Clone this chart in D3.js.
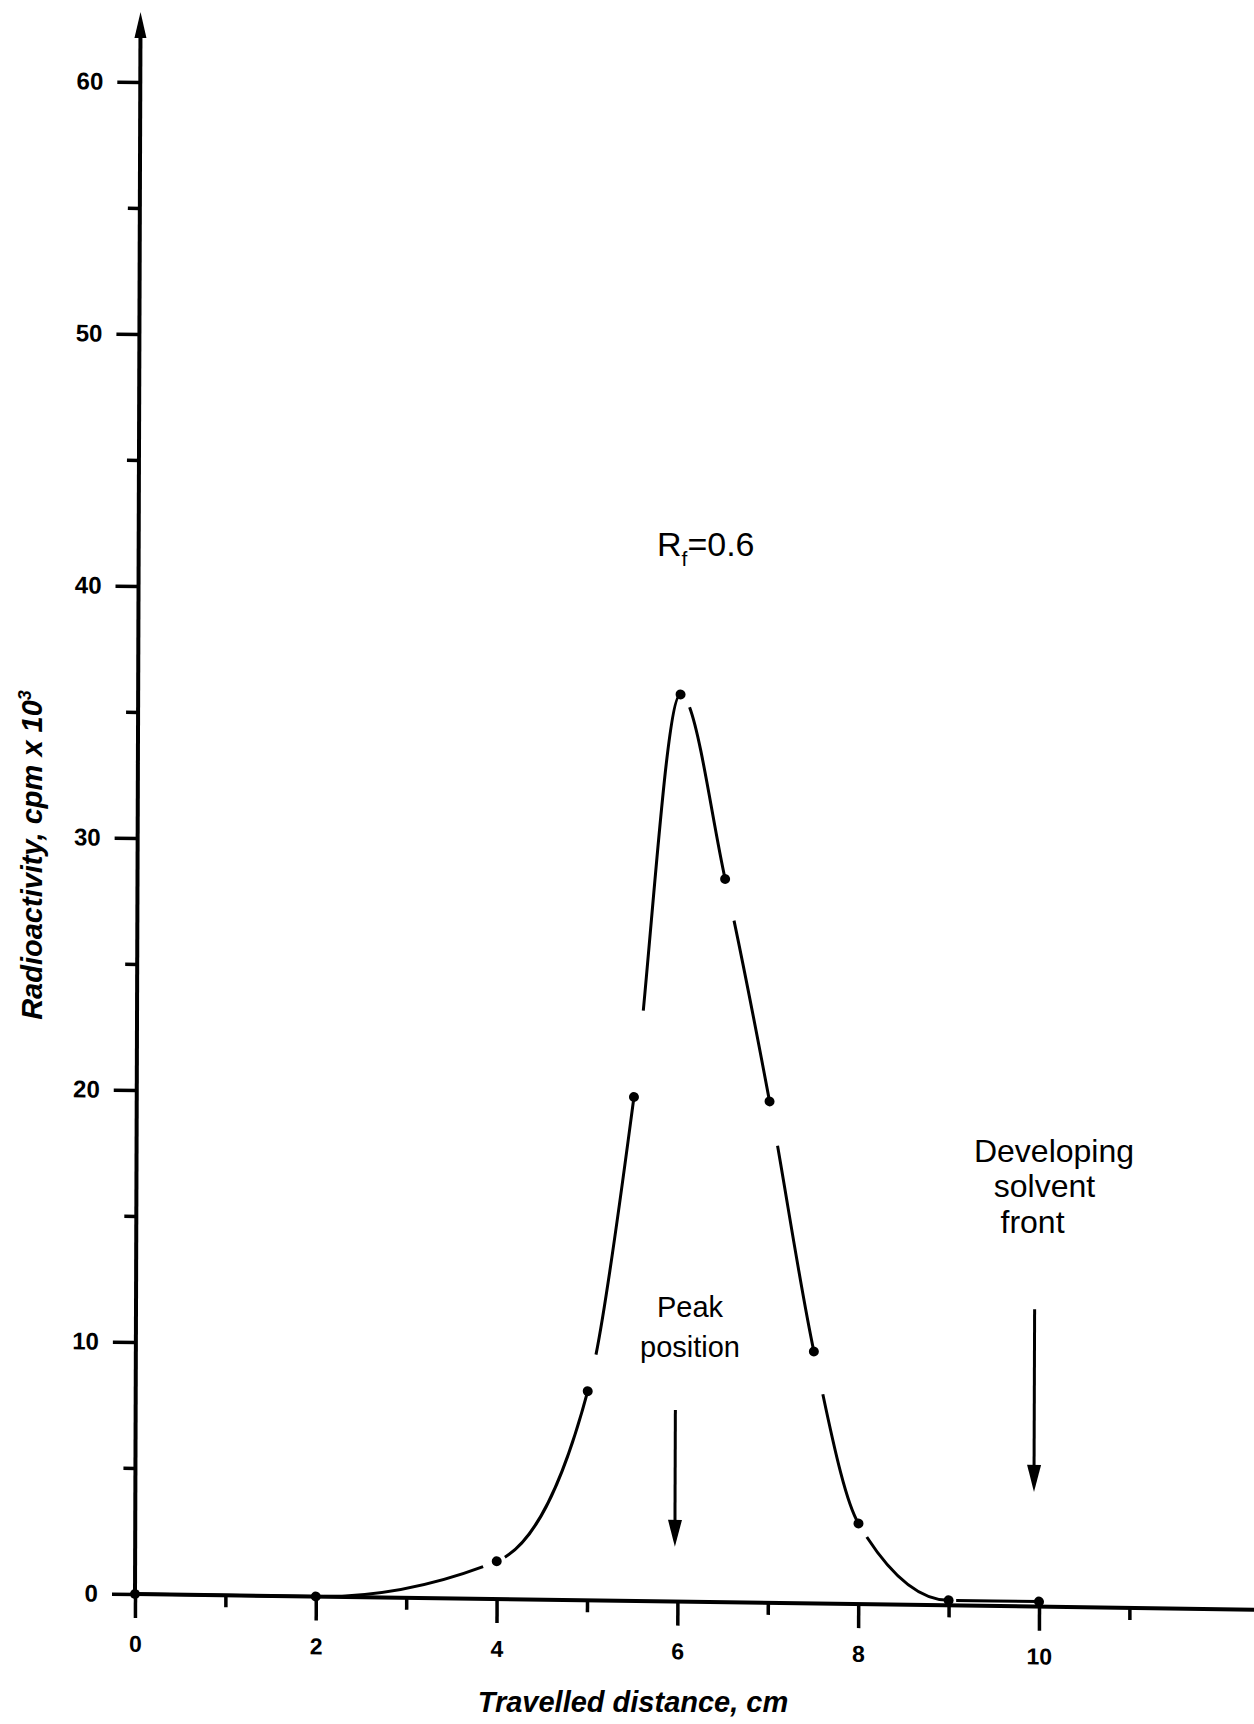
<!DOCTYPE html>
<html>
<head>
<meta charset="utf-8">
<script src="https://cdn.jsdelivr.net/npm/d3@7"></script>
<style>
  body { margin: 0; background: #fff; }
  svg { display: block; background: #fff; }
  text { font-family: "Liberation Sans", Arial, Helvetica, sans-serif; fill: #000; }
</style>
</head>
<body>
<svg id="chart" width="1254" height="1724"></svg>
<script>
// Distance travelled along the strip (cm)
const distance = [0, 2, 4, 5, 5.5, 6, 6.5, 7, 7.5, 8, 9, 10];
// Counted radioactivity at each position (cpm x 10^3)
const activity = [0, 0, 1.5, 8.3, 20, 36, 28.7, 19.9, 10, 3.2, 0.2, 0.2];

const xMajorTicks = [0, 2, 4, 6, 8, 10];
const xMinorTicks = [1, 3, 5, 7, 9, 11];
const yMajorTicks = [0, 10, 20, 30, 40, 50, 60];
const yMinorTicks = [5, 15, 25, 35, 45, 55];

// Stretches of the drawn curve left open beside the measured points (cm)
const curveBreaks = [[3.85, 4.09], [5.0, 5.09], [5.5, 5.6], [6.0, 6.1], [6.5, 6.6],
                     [7.0, 7.09], [7.5, 7.6], [8.0, 8.09], [9.0, 9.08]];

// Marker arrows: position (cm), start and tip (cpm x 10^3)
const arrowX = [5.97, 9.94];
const arrowFrom = [7.6, 11.8];
const arrowTo = [2.17, 4.55];

const svg = d3.select("#chart");

const x = d3.scaleLinear().domain([0, 10]).range([0, 904]);
const y = d3.scaleLinear().domain([0, 60]).range([0, -1512]);

// plot frame, slightly sheared like the printed original
const g = svg.append("g")
  .attr("transform", "translate(135,1594) matrix(1,0.014,-0.0035,1,0,0)");

// ---- axes ----
const yMajor = g.append("g").call(
  d3.axisLeft(y).tickValues(yMajorTicks).tickSize(23).tickPadding(14).tickFormat(d3.format("d")));
const yMinor = g.append("g").call(
  d3.axisLeft(y).tickValues(yMinorTicks).tickSize(12).tickFormat(""));
const xMajor = g.append("g").call(
  d3.axisBottom(x).tickValues(xMajorTicks).tickSize(24).tickPadding(17.5).tickFormat(d3.format("d")));
const xMinor = g.append("g").call(
  d3.axisBottom(x).tickValues(xMinorTicks).tickSize(12).tickFormat(""));

[yMajor, yMinor, xMajor, xMinor].forEach(a => {
  a.select(".domain").remove();
  a.selectAll(".tick line").attr("stroke", "#000").attr("stroke-width", 3.5);
});
yMajor.selectAll(".tick text")
  .attr("font-family", "'Liberation Sans', Arial, sans-serif")
  .attr("font-size", 24).attr("font-weight", "bold");
xMajor.selectAll(".tick text")
  .attr("font-family", "'Liberation Sans', Arial, sans-serif")
  .attr("font-size", 23).attr("font-weight", "bold");

// axis lines with arrowheads
const yTop = y(60) - 70;
const xEnd = x(11) + 214;
g.append("line").attr("x1", 0).attr("y1", 0).attr("x2", 0).attr("y2", yTop + 20)
  .attr("stroke", "#000").attr("stroke-width", 4);
g.append("path")
  .attr("d", `M0,${yTop} L-6,${yTop + 26} L6,${yTop + 26} Z`).attr("fill", "#000");
g.append("line").attr("x1", 0).attr("y1", 0).attr("x2", xEnd - 18).attr("y2", 0)
  .attr("stroke", "#000").attr("stroke-width", 4);
g.append("path")
  .attr("d", `M${xEnd},0 L${xEnd - 24},-7 L${xEnd - 24},7 Z`).attr("fill", "#000");

// ---- measured curve ----
const pts = distance.map((d, i) => [d, activity[i]]);
const line = d3.line().x(d => x(d[0])).y(d => y(d[1])).curve(d3.curveMonotoneX);
const curve = g.append("path").datum(pts)
  .attr("d", line).attr("fill", "none")
  .attr("stroke", "#000").attr("stroke-width", 3);

const node = curve.node();
const total = node.getTotalLength();
function lengthAt(cm) {
  const tx = x(cm);
  let lo = 0, hi = total;
  for (let i = 0; i < 40; i++) {
    const mid = (lo + hi) / 2;
    if (node.getPointAtLength(mid).x < tx) lo = mid; else hi = mid;
  }
  return (lo + hi) / 2;
}
const dashes = [];
let pos = 0;
curveBreaks.forEach(([a, b]) => {
  const la = lengthAt(a), lb = lengthAt(b);
  dashes.push(la - pos, lb - la);
  pos = lb;
});
dashes.push(total - pos);
curve.attr("stroke-dasharray", dashes.join(" "));

g.selectAll("circle.pt").data(pts).join("circle")
  .attr("class", "pt")
  .attr("cx", d => x(d[0])).attr("cy", d => y(d[1])).attr("r", 5)
  .attr("fill", "#000");

// ---- marker arrows ----
arrowX.forEach((ax, i) => {
  const xx = x(ax), y0 = y(arrowFrom[i]), y1 = y(arrowTo[i]);
  g.append("line").attr("x1", xx).attr("y1", y0).attr("x2", xx).attr("y2", y1 - 20)
    .attr("stroke", "#000").attr("stroke-width", 3);
  g.append("path")
    .attr("d", `M${xx},${y1} L${xx - 7},${y1 - 27} L${xx + 7},${y1 - 27} Z`)
    .attr("fill", "#000");
});

// ---- annotations ----
const rf = svg.append("text").attr("x", 657).attr("y", 556).attr("font-size", 34);
rf.append("tspan").text("R");
rf.append("tspan").attr("font-size", 21).attr("dy", 10).text("f");
rf.append("tspan").attr("dy", -10).text("=0.6");

[["Peak", 1317], ["position", 1357]].forEach(([t, yy]) => {
  svg.append("text").attr("x", 690).attr("y", yy).attr("text-anchor", "middle")
    .attr("font-size", 29).text(t);
});
[["Developing", 1054, 1162], ["solvent", 1044.5, 1197], ["front", 1032.5, 1233]].forEach(([t, xx, yy]) => {
  svg.append("text").attr("x", xx).attr("y", yy).attr("text-anchor", "middle")
    .attr("font-size", 32).text(t);
});

// ---- axis titles ----
svg.append("text").attr("x", 633).attr("y", 1712).attr("text-anchor", "middle")
  .attr("font-size", 29).attr("font-weight", "bold").attr("font-style", "italic")
  .text("Travelled distance, cm");

const yt = svg.append("text").attr("transform", "translate(42,855) rotate(-90)")
  .attr("text-anchor", "middle").attr("font-size", 29)
  .attr("font-weight", "bold").attr("font-style", "italic");
yt.append("tspan").text("Radioactivity, cpm x 10");
yt.append("tspan").attr("font-size", 18).attr("dy", -11).text("3");
</script>
</body>
</html>
